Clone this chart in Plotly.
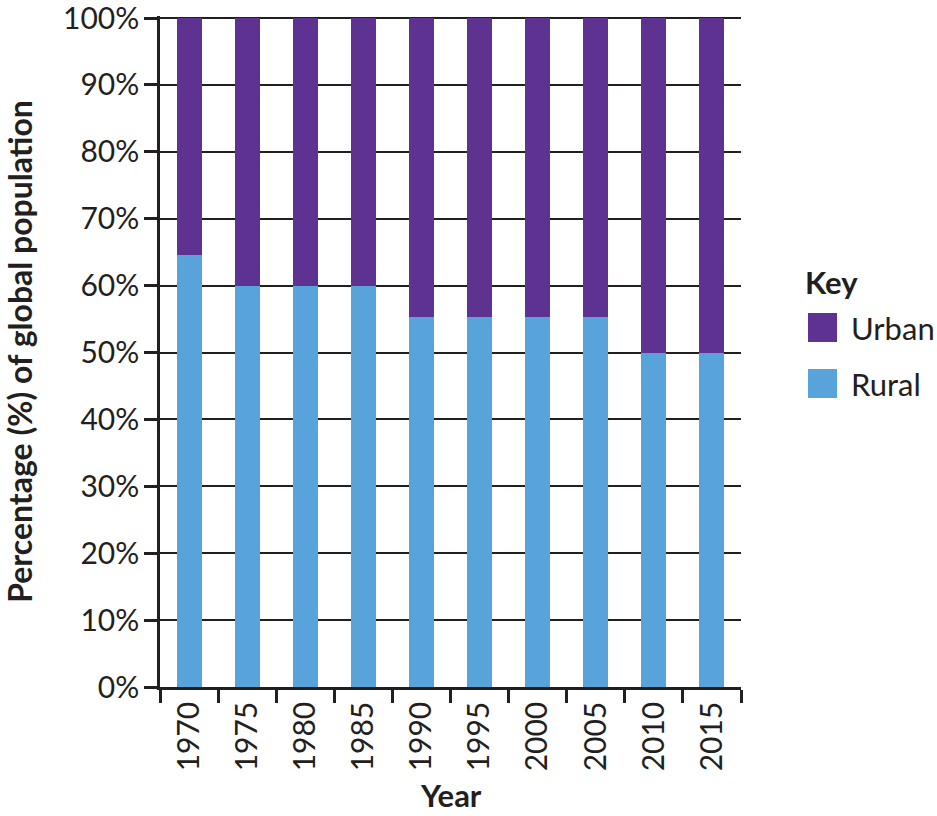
import plotly.graph_objects as go

years = ["1970", "1975", "1980", "1985", "1990", "1995", "2000", "2005", "2010", "2015"]
rural = [64.6, 60, 60, 60, 55.3, 55.3, 55.3, 55.3, 50, 50]
urban = [35.4, 40, 40, 40, 44.7, 44.7, 44.7, 44.7, 50, 50]
y_ticks = [0, 10, 20, 30, 40, 50, 60, 70, 80, 90, 100]
y_labels = [f"{v}%" for v in y_ticks]

PURPLE = "#5e3290"
BLUE = "#57a3da"
INK = "#231f20"
FONT = "Lato"

fig = go.Figure()
fig.add_trace(go.Bar(x=years, y=rural, name="Rural", marker=dict(color=BLUE, line=dict(width=0))))
fig.add_trace(go.Bar(x=years, y=urban, name="Urban", marker=dict(color=PURPLE, line=dict(width=0))))

fig.update_layout(
    barmode="stack",
    bargap=0.57,
    width=937,
    height=816,
    margin=dict(l=160, r=196, t=16, b=129, autoexpand=False),
    paper_bgcolor="white",
    plot_bgcolor="white",
    showlegend=False,
    font=dict(family=FONT, size=30, color=INK),
)

fig.update_yaxes(
    range=[0, 100.3],
    tickmode="array",
    tickvals=y_ticks,
    ticktext=y_labels,
    ticks="outside",
    ticklen=13,
    tickwidth=2.5,
    tickcolor=INK,
    ticklabeloverflow="allow",
    ticklabelstandoff=-1,
    showgrid=True,
    gridcolor=INK,
    gridwidth=2,
    showline=True,
    linecolor=INK,
    linewidth=2.5,
    zeroline=False,
    automargin=False,
    tickfont=dict(family=FONT, size=30, color=INK),
    title=dict(text="<b>Percentage (%) of global population</b>", standoff=42,
               font=dict(family=FONT, size=32, color=INK)),
)

fig.update_xaxes(
    tickangle=-90,
    ticks="outside",
    tickson="boundaries",
    ticklen=13,
    tickwidth=2.5,
    tickcolor=INK,
    ticklabeloverflow="allow",
    showline=True,
    linecolor=INK,
    linewidth=2.5,
    showgrid=False,
    automargin=False,
    tickfont=dict(family=FONT, size=30, color=INK),
)

def px_x(px):
    return (px - 160) / 581.0

def px_y(py):
    return (687 - py) / 671.0

# x-axis title placed as annotation, anchored to the bottom edge of the figure
fig.add_annotation(xref="paper", yref="paper", x=0.5, y=px_y(815),
                   text="<b>Year</b>", showarrow=False, xanchor="center", yanchor="bottom",
                   borderpad=0, font=dict(family=FONT, size=31, color=INK))

# Legend ("Key") drawn manually to match the large swatches
legend_items = [("Urban", PURPLE, 313, 342), ("Rural", BLUE, 369, 398)]
for label, color, top, bottom in legend_items:
    fig.add_shape(type="rect", xref="paper", yref="paper",
                  x0=px_x(808), x1=px_x(837), y0=px_y(bottom), y1=px_y(top),
                  fillcolor=color, line=dict(width=0))
    fig.add_annotation(xref="paper", yref="paper", x=px_x(849), y=px_y((top + bottom) / 2),
                       text=label, showarrow=False, xanchor="left", yanchor="middle",
                       font=dict(family=FONT, size=31, color=INK))

fig.add_annotation(xref="paper", yref="paper", x=px_x(803), y=px_y(282),
                   text="<b>Key</b>", showarrow=False, xanchor="left", yanchor="middle",
                   font=dict(family=FONT, size=31, color=INK))

fig.write_html(
    "out.html",
    config={"displayModeBar": False},
    post_script="document.body.style.margin='0';document.body.style.padding='0';",
)
